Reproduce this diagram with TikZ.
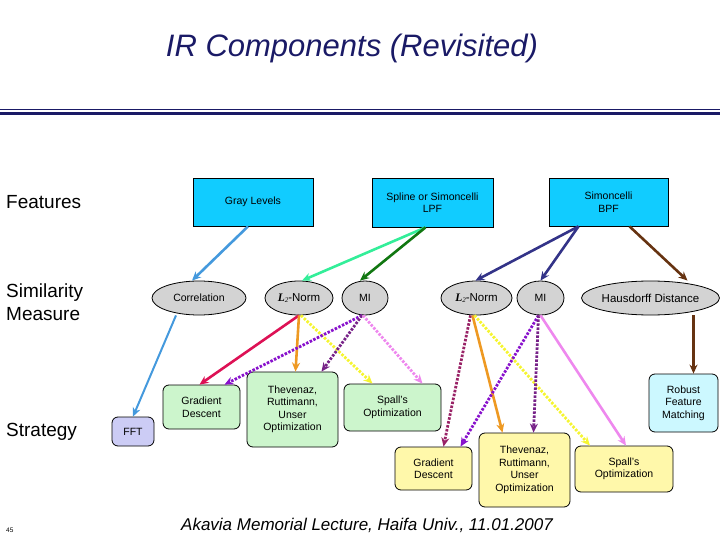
\documentclass[tikz,border=0pt]{standalone}
\usepackage{fontspec}
\setmainfont{Liberation Sans}
\newfontfamily\serifbi{Liberation Serif}
\usetikzlibrary{shapes.geometric,arrows.meta}
\definecolor{navy}{HTML}{1A1A66}
\definecolor{cyanbox}{HTML}{11CCFF}
\definecolor{ellgray}{HTML}{D3D3D3}
\definecolor{gbox}{HTML}{CCF5CC}
\definecolor{ybox}{HTML}{FFF8AA}
\definecolor{fbox}{HTML}{CCCCF5}
\definecolor{rbox}{HTML}{CCF8FF}
\definecolor{cLB}{HTML}{4499DD}
\definecolor{cAq}{HTML}{33EE99}
\definecolor{cDG}{HTML}{117711}
\definecolor{cNv}{HTML}{333388}
\definecolor{cBr}{HTML}{663311}
\definecolor{cCr}{HTML}{DD1155}
\definecolor{cOr}{HTML}{EE9922}
\definecolor{cYe}{HTML}{F5F530}
\definecolor{cPu}{HTML}{8811CC}
\definecolor{cDP}{HTML}{772288}
\definecolor{cVi}{HTML}{EE88EE}
\definecolor{cMa}{HTML}{992266}
\newcommand{\Ltwo}{{\serifbi\bfseries\itshape L}\raisebox{-1.5pt}{\fontsize{7}{8}\selectfont\serifbi\itshape 2}-Norm}
\tikzset{
  every node/.style={font=\fontsize{10.5}{12.5}\selectfont, align=center, inner sep=0pt},
  feat/.style={draw=black, fill=cyanbox, line width=0.8pt},
  meas/.style={ellipse, draw=black, fill=ellgray, line width=0.8pt},
  strat/.style={draw=black, rounded corners=6pt, line width=0.8pt},
  lab/.style={anchor=west, font=\fontsize{19}{23}\selectfont, align=left},
  arr/.style={-{Stealth[length=9pt,width=8pt]}, line width=2.6pt},
  dot/.style={arr, dash pattern=on 2.5pt off 1.5pt, line width=2.8pt}
}
\begin{document}
\begin{tikzpicture}[x=1pt,y=-1pt]
\useasboundingbox (0,0) rectangle (720,540);
\node[text=navy, font=\itshape\fontsize{31}{35}\selectfont] (title) at (352,48) {IR Components (Revisited)};
\fill[navy] (0,109.5) rectangle (720,110.5);
\fill[navy] (0,112) rectangle (720,115);

\node[lab] (lf) at (6,202) {Features};
\node[lab] (ls) at (6,302) {Similarity\\Measure};
\node[lab] (lst) at (6,432) {Strategy};
\node[anchor=west, font=\fontsize{6.5}{7}\selectfont] (pg) at (6,530) {45};
\node[font=\itshape\fontsize{17}{20}\selectfont] (foot) at (367,525) {Akavia Memorial Lecture, Haifa Univ., 11.01.2007};

% features
\node[feat, minimum width=120pt, minimum height=48pt] (gl) at (253,202) {Gray Levels};
\node[feat, minimum width=121pt, minimum height=49pt] (sp) at (432.5,202.5) {Spline or Simoncelli\\LPF};
\node[feat, minimum width=119pt, minimum height=48pt] (sb) at (608.5,202) {Simoncelli\\BPF};

% measures
\node[meas, minimum width=94pt, minimum height=34pt] (co) at (199,298) {Correlation};
\node[meas, minimum width=68pt, minimum height=34pt, font=\fontsize{11.5}{13}\selectfont] (la) at (299,298) {\Ltwo};
\node[meas, minimum width=46pt, minimum height=34pt] (ma) at (365,298) {MI};
\node[meas, minimum width=71pt, minimum height=34pt, font=\fontsize{11.5}{13}\selectfont] (lb) at (476.5,298) {\Ltwo};
\node[meas, minimum width=47pt, minimum height=34pt] (mb) at (540.5,298) {MI};
\node[meas, minimum width=135pt, minimum height=34pt, font=\fontsize{11.5}{13}\selectfont] (hd) at (650.5,298) {Hausdorff Distance};

% strategies
\node[strat, fill=fbox, minimum width=42pt, minimum height=29pt] (fft) at (133,431.5) {FFT};
\node[strat, fill=gbox, minimum width=77pt, minimum height=44pt] (gd1) at (201.5,407) {Gradient\\Descent};
\node[strat, fill=gbox, minimum width=91pt, minimum height=75pt] (th1) at (292.5,409.5) {Thevenaz,\\Ruttimann,\\Unser\\Optimization};
\node[strat, fill=gbox, minimum width=97pt, minimum height=47pt] (sp1) at (392.5,407.5) {Spall's\\Optimization};
\node[strat, fill=rbox, minimum width=69pt, minimum height=58pt] (rf) at (683.5,403) {Robust\\Feature\\Matching};
\node[strat, fill=ybox, minimum width=77pt, minimum height=43pt] (gd2) at (433.5,468.5) {Gradient\\Descent};
\node[strat, fill=ybox, minimum width=91pt, minimum height=74pt] (th2) at (524.5,470) {Thevenaz,\\Ruttimann,\\Unser\\Optimization};
\node[strat, fill=ybox, minimum width=98pt, minimum height=46pt] (sp2) at (624,469) {Spall's\\Optimization};

% feature -> measure
\draw[arr, cLB] ([xshift=-5pt]gl.south) -- ([xshift=-7pt]co.north);
\draw[arr, cAq] ([xshift=-7pt]sp.south) -- ([xshift=3pt]la.north);
\draw[arr, cDG] ([xshift=-7pt]sp.south) -- ([xshift=-5pt]ma.north);
\draw[arr, cNv] ([xshift=-30pt]sb.south) -- ([xshift=-1pt]lb.north);
\draw[arr, cNv] ([xshift=-30pt]sb.south) -- ([xshift=0pt]mb.north);
\draw[arr, cBr] ([xshift=21pt]sb.south) -- ([xshift=37pt]hd.north);

% measure -> strategy
\draw[arr, cLB, line width=2pt] ([xshift=-23pt]co.south) -- ([xshift=0pt]fft.north);
\draw[arr, cCr] ([xshift=0pt]la.south) -- ([xshift=-2pt]gd1.north);
\draw[arr, cOr] ([xshift=0pt]la.south) -- ([xshift=3pt]th1.north);
\draw[dot, cYe] ([xshift=2pt]la.south) -- ([xshift=-20pt]sp1.north);
\draw[dot, cPu] ([xshift=-3pt]ma.south) -- ([xshift=23pt]gd1.north);
\draw[dot, cDP] ([xshift=-3pt]ma.south) -- ([xshift=29pt]th1.north);
\draw[dot, cVi] ([xshift=-2pt]ma.south) -- ([xshift=30pt]sp1.north);
\draw[dot, cMa] ([xshift=-6pt]lb.south) -- ([xshift=10pt]gd2.north);
\draw[arr, cOr] ([xshift=-4pt]lb.south) -- ([xshift=-22pt]th2.north);
\draw[dot, cYe] ([xshift=-2pt]lb.south) -- ([xshift=-34pt]sp2.north);
\draw[dot, cPu] ([xshift=-2pt]mb.south) -- ([xshift=27pt]gd2.north);
\draw[dot, cDP] ([xshift=-2pt]mb.south) -- ([xshift=9pt]th2.north);
\draw[arr, cVi] ([xshift=0pt]mb.south) -- ([xshift=2pt]sp2.north);
\draw[arr, cBr] ([xshift=43pt]hd.south) -- ([xshift=10pt]rf.north);
\end{tikzpicture}
\end{document}
